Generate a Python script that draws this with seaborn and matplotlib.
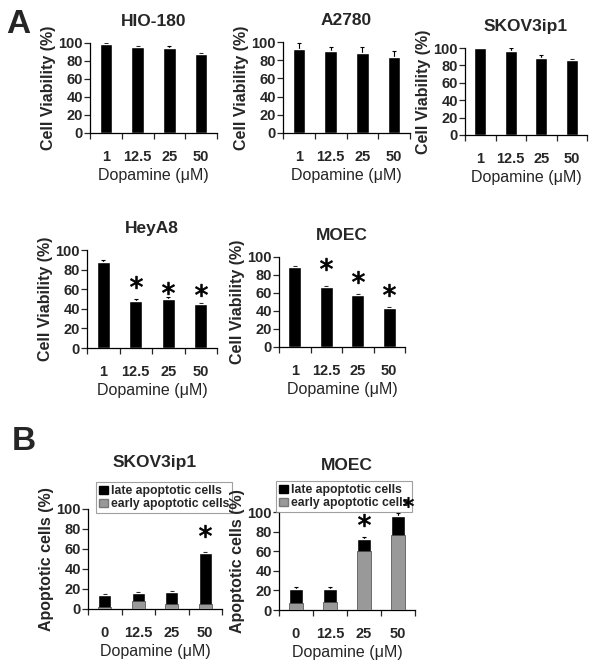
import numpy as np
import pandas as pd
import matplotlib
matplotlib.use("Agg")
import matplotlib.pyplot as plt
from matplotlib.patches import Patch
import seaborn as sns

# ---- data ----
doses_a = ['1', '12.5', '25', '50']
doses_b = ['0', '12.5', '25', '50']

hio_mean = [98.5, 95.5, 94.5, 88.0]
hio_err = [1.0, 1.0, 2.0, 1.0]
a2780_mean = [92.0, 90.0, 88.0, 83.5]
a2780_err = [7.0, 5.0, 7.0, 7.0]
skov_mean = [100.0, 96.5, 88.5, 86.5]
skov_err = [0.5, 4.0, 4.0, 1.0]
heya8_mean = [88.0, 48.0, 50.5, 45.0]
heya8_err = [1.5, 2.5, 1.5, 1.0]
moec_mean = [89.0, 67.0, 57.5, 43.0]
moec_err = [1.0, 1.0, 1.0, 1.0]

# significance stars (height in axis units, NaN = none)
heya8_star = [np.nan, 67.5, 61.5, 59.0]
moec_star = [np.nan, 92.5, 78.0, 63.5]

skovb_total = [14.0, 16.5, 17.5, 56.5]
skovb_early = [2.5, 8.0, 5.0, 5.0]
skovb_err = [1.5, 0.5, 0.5, 0.8]
skovb_star = [np.nan, np.nan, np.nan, 78.0]

moecb_total = [21.5, 21.5, 72.5, 96.0]
moecb_early = [7.0, 8.0, 60.5, 77.0]
moecb_err = [1.5, 1.5, 2.5, 2.5]
moecb_star = [np.nan, np.nan, 92.0, np.nan]

sns.set_style("ticks")
plt.rcParams['font.family'] = ['Liberation Sans', 'DejaVu Sans']

W, H = 601, 670
fig = plt.figure(figsize=(W / 100, H / 100), dpi=100)


def px_axes(left, right, top, bottom):
    return fig.add_axes([left / W, 1 - bottom / H, (right - left) / W, (bottom - top) / H])


def style_axes(ax, labels, ylabel, title, title_pad):
    ax.set_xlim(-0.5, 3.5)
    ax.set_ylim(0, 100)
    ax.set_yticks(range(0, 101, 20))
    ax.set_yticklabels([str(v) for v in range(0, 101, 20)], fontweight='bold', fontsize=10.5)
    ax.tick_params(axis='y', length=4, width=0.9, pad=1, direction='out')
    ax.set_xticks(np.arange(-0.5, 4, 1.0))
    ax.set_xticklabels([])
    ax.tick_params(axis='x', which='major', length=4, width=0.9, direction='out')
    ax.set_xticks(range(len(labels)), minor=True)
    ax.set_xticklabels(labels, minor=True, fontweight='bold', fontsize=10.5)
    ax.tick_params(axis='x', which='minor', length=0, pad=12)
    ax.set_xlabel('Dopamine (μM)', fontsize=11.5, labelpad=3)
    ax.set_ylabel(ylabel, fontweight='bold', fontsize=11.5, labelpad=2)
    ax.set_title(title, fontweight='bold', fontsize=12.5, pad=title_pad)
    for s in ['top', 'right']:
        ax.spines[s].set_visible(False)
    for s in ['left', 'bottom']:
        ax.spines[s].set_linewidth(0.9)
        ax.spines[s].set_color('black')


def add_stars(ax, stars, ms=9):
    ax.plot(range(len(stars)), stars, linestyle='none', marker='$*$', ms=ms,
            color='black', mew=0.6, clip_on=False)


def viability_panel(box, title, mean, err, stars=None):
    ax = px_axes(*box)
    df = pd.DataFrame({'dose': doses_a, 'value': mean})
    ax.errorbar(range(len(mean)), mean, yerr=[np.zeros(len(err)), err], fmt='none',
                ecolor='black', elinewidth=0.8, capsize=1.5, capthick=0.8, zorder=1)
    sns.barplot(data=df, x='dose', y='value', color='black', saturation=1,
                width=0.4, errorbar=None, ax=ax, zorder=2)
    if stars is not None:
        add_stars(ax, stars)
    style_axes(ax, doses_a, 'Cell Viability (%)', title, 12)
    return ax


def apoptosis_panel(box, title, total, early, err, stars, legend_anchor):
    ax = px_axes(*box)
    df = pd.DataFrame({'dose': doses_b, 'total': total, 'early': early})
    ax.errorbar(range(len(total)), total, yerr=[np.zeros(len(err)), err], fmt='none',
                ecolor='black', elinewidth=0.8, capsize=1.5, capthick=0.8, zorder=1)
    sns.barplot(data=df, x='dose', y='total', color='black', saturation=1,
                width=0.4, errorbar=None, ax=ax, zorder=2)
    sns.barplot(data=df, x='dose', y='early', color='#999999', saturation=1,
                width=0.4, errorbar=None, ax=ax, zorder=3,
                edgecolor='#444444', linewidth=0.5)
    add_stars(ax, stars)
    style_axes(ax, doses_b, 'Apoptotic cells (%)', title, 30)
    handles = [Patch(facecolor='black', edgecolor='black'),
               Patch(facecolor='#999999', edgecolor='#777777')]
    leg = ax.legend(handles, ['late apoptotic cells', 'early apoptotic cells'],
                    loc='upper left', bbox_to_anchor=legend_anchor, borderaxespad=0,
                    frameon=True, fancybox=False, handlelength=0.7, handleheight=0.7,
                    handletextpad=0.25, labelspacing=0.1, borderpad=0.25,
                    prop={'weight': 'bold', 'size': 8.8})
    leg.get_frame().set_edgecolor('#888888')
    leg.get_frame().set_linewidth(0.8)
    return ax


viability_panel((90, 217, 43, 133), 'HIO-180', hio_mean, hio_err)
viability_panel((283, 410, 42, 133), 'A2780', a2780_mean, a2780_err)
viability_panel((465, 587, 48, 135), 'SKOV3ip1', skov_mean, skov_err)
viability_panel((87, 217, 250, 348), 'HeyA8', heya8_mean, heya8_err, heya8_star)
viability_panel((279, 405, 257, 347), 'MOEC', moec_mean, moec_err, moec_star)

apoptosis_panel((88, 222, 509, 609), 'SKOV3ip1', skovb_total, skovb_early, skovb_err,
                skovb_star, (0.06, 1.27))
axm = apoptosis_panel((279, 415, 512, 610), 'MOEC', moecb_total, moecb_early, moecb_err,
                      moecb_star, (-0.02, 1.316))
# the extra star at the right edge of the MOEC legend
axm.plot([3.28], [110], linestyle='none', marker='$*$', ms=7.5, color='black',
         mew=0.5, clip_on=False, zorder=10)

fig.text(6 / W, 1 - 33 / H, 'A', fontsize=24, fontweight='bold', va='baseline')
fig.text(12 / W, 1 - 450 / H, 'B', fontsize=24, fontweight='bold', va='baseline')

fig.savefig('out.png', dpi=100)
